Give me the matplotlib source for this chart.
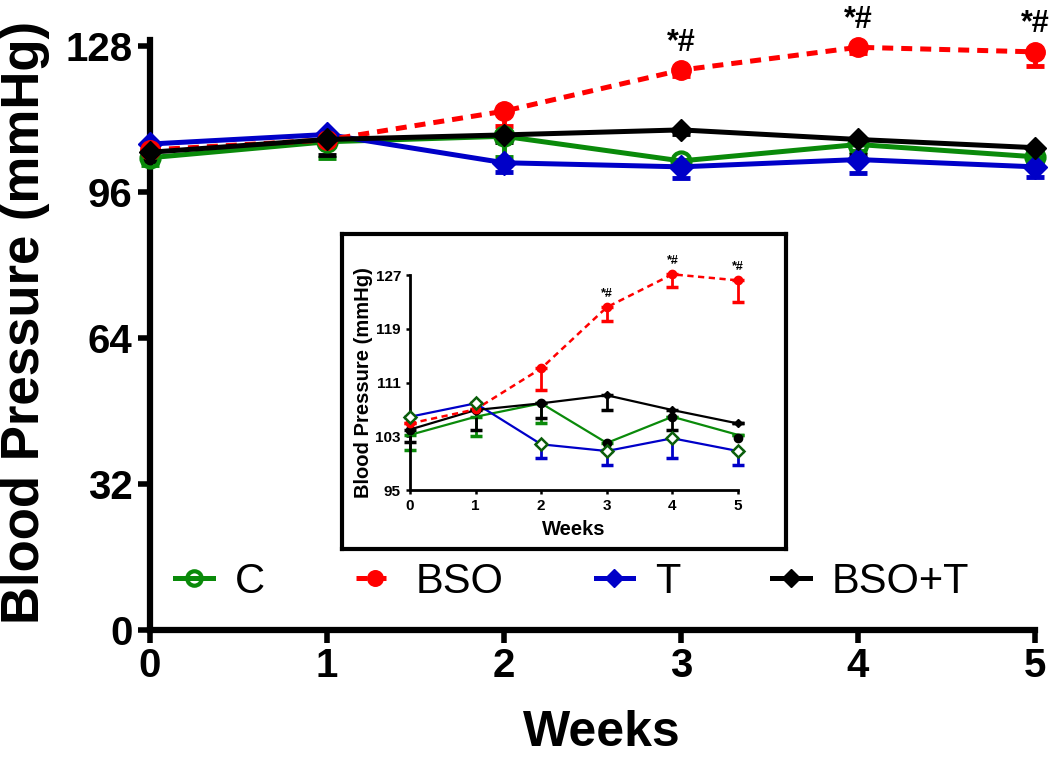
import matplotlib.pyplot as plt

plt.rcParams['font.family'] = ['Liberation Sans', 'DejaVu Sans']

weeks = [0, 1, 2, 3, 4, 5]

# main panel (mmHg), error bars drawn downward only
c_bp = [103.5, 107.0, 108.2, 102.8, 106.4, 103.7]
c_err = [1.5, 3.5, 4.5, 1.0, 1.5, 1.0]
bso_bp = [105.2, 107.4, 113.7, 122.7, 127.7, 126.7]
bso_err = [0.8, 0.8, 3.3, 1.2, 1.2, 3.2]
t_bp = [106.5, 108.6, 102.4, 101.5, 103.1, 101.5]
t_err = [1.0, 1.0, 2.1, 2.5, 3.0, 2.2]
bsot_bp = [104.7, 107.5, 108.5, 109.6, 107.5, 105.7]
bsot_err = [2.0, 3.3, 1.5, 1.0, 3.3, 1.0]
star_weeks = [3, 4, 5]
star_text = "*#"

# inset panel (mmHg)
in_c = [103.2, 105.9, 107.9, 102.0, 105.9, 103.2]
in_c_err = [2.2, 2.9, 3.0, 1.0, 0.0, 0.0]
in_bso = [104.9, 107.0, 113.1, 122.2, 127.1, 126.2]
in_bso_err = [0.0, 0.0, 3.2, 2.1, 1.9, 3.2]
in_t = [105.9, 107.9, 101.8, 100.8, 102.7, 100.8]
in_t_err = [0.0, 0.0, 2.0, 2.1, 3.0, 2.1]
in_bsot = [104.0, 106.9, 107.9, 109.1, 106.9, 104.9]
in_bsot_err = [1.8, 2.9, 2.2, 2.2, 2.9, 0.0]
in_dots_weeks = [0, 1, 2, 3, 4, 5]
in_dots = [103.9, 106.9, 107.9, 102.0, 105.9, 102.7]
in_yticks = [95, 103, 111, 119, 127]

GREEN = '#0a8a0a'
RED = '#ff0000'
BLUE = '#0000c8'
BLACK = '#000000'

fig = plt.figure(figsize=(10.5, 7.58), dpi=100)
ax = fig.add_axes([150/1050, 1 - 630/758, 885/1050, 590/758])


def down_err(a, x, y, e, color, lw, cap, capw, z=2):
    a.errorbar(x, y, yerr=[e, [0]*len(e)], fmt='none', ecolor=color,
               elinewidth=lw, capsize=cap, capthick=capw, zorder=z, clip_on=False)


down_err(ax, weeks, c_bp, c_err, GREEN, 3.5, 6.5, 3.5)
down_err(ax, weeks, bso_bp, bso_err, RED, 3.5, 6.5, 3.5)
down_err(ax, weeks, t_bp, t_err, BLUE, 3.5, 6.5, 3.5)
down_err(ax, weeks, bsot_bp, bsot_err, BLACK, 3.5, 6.5, 3.5)

h_c, = ax.plot(weeks, c_bp, color=GREEN, lw=3.6, marker='o', ms=13, mfc='none',
               mec=GREEN, mew=3, label='C', zorder=3, clip_on=False)
h_bso, = ax.plot(weeks, bso_bp, color=RED, lw=3.6, ls=(0, (2.2, 1.6)), marker='o', ms=14,
                 mfc=RED, mec=RED, label='BSO', zorder=4, clip_on=False)
h_t, = ax.plot(weeks, t_bp, color=BLUE, lw=3.6, marker='D', ms=12, mfc=BLUE, mec=BLUE,
               label='T', zorder=3, clip_on=False)
h_b, = ax.plot(weeks, bsot_bp, color=BLACK, lw=3.6, marker='D', ms=11, mfc=BLACK, mec=BLACK,
               label='BSO+T', zorder=5, clip_on=False)

for w in star_weeks:
    ax.annotate(star_text, (w, bso_bp[w]), xytext=(0, 9), textcoords='offset points',
                ha='center', va='bottom', fontsize=22, fontweight='bold', annotation_clip=False)

ax.set_xlim(0, 5)
ax.set_ylim(0, 129.3)
ax.set_xticks(weeks)
ax.set_yticks([0, 32, 64, 96, 128])
for s in ['top', 'right']:
    ax.spines[s].set_visible(False)
for s in ['left', 'bottom']:
    ax.spines[s].set_linewidth(4.5)
ax.tick_params(width=4, length=9, labelsize=29)
for lab in ax.get_xticklabels() + ax.get_yticklabels():
    lab.set_fontweight('bold')
ax.set_xlabel('Weeks', fontsize=36, fontweight='bold')
ax.xaxis.set_label_coords(0.51, -0.136)
ax.set_ylabel('Blood Pressure (mmHg)', fontsize=38, fontweight='bold')
ax.yaxis.set_label_coords(-0.113, 0.522)

leg = fig.legend(handles=[h_c, h_bso, h_t, h_b], loc='center left',
                 bbox_to_anchor=(175/1050, 1 - 582/758), ncol=4, frameon=False,
                 fontsize=30, handlelength=0.9, handletextpad=0.53, columnspacing=2.2,
                 markerscale=0.8, borderpad=0, borderaxespad=0)

# inset box
box = fig.add_axes([342/1050, 1 - 549/758, 444/1050, 315/758])
box.set_xticks([])
box.set_yticks([])
for s in box.spines.values():
    s.set_linewidth(3)
box.set_zorder(6)

ins = fig.add_axes([410/1050, 1 - 490/758, 328/1050, 215/758])
ins.set_zorder(7)
ins.patch.set_alpha(0)

down_err(ins, weeks, in_c, in_c_err, GREEN, 2, 4.5, 2.5)
down_err(ins, weeks, in_bso, in_bso_err, RED, 2, 4.5, 2.5)
down_err(ins, weeks, in_t, in_t_err, BLUE, 2, 4.5, 2.5)
down_err(ins, weeks, in_bsot, in_bsot_err, BLACK, 2, 4.5, 2.5)

ins.plot(weeks, in_c, color=GREEN, lw=1.6, zorder=3, clip_on=False)
ins.plot(weeks, in_t, color=BLUE, lw=1.6, zorder=3, clip_on=False)
ins.plot(weeks, in_bsot, color=BLACK, lw=1.6, marker='D', ms=4, zorder=3, clip_on=False)
ins.plot(in_dots_weeks, in_dots, ls='none', marker='o', ms=6, color=BLACK, zorder=4, clip_on=False)
ins.plot(weeks, in_bso, color=RED, lw=1.8, ls=(0, (2.5, 1.8)), marker='o', ms=6,
         zorder=4, clip_on=False)
ins.plot(weeks, in_t, ls='none', marker='D', ms=6, mfc='white', mec='#0b5e0b', mew=1.8,
         zorder=5, clip_on=False)

for w in star_weeks:
    ins.annotate(star_text, (w, in_bso[w]), xytext=(0, 5), textcoords='offset points',
                 ha='center', va='bottom', fontsize=9, fontweight='bold', annotation_clip=False)

ins.set_xlim(0, 5)
ins.set_ylim(95, 127)
ins.set_xticks(weeks)
ins.set_yticks(in_yticks)
for s in ['top', 'right']:
    ins.spines[s].set_visible(False)
for s in ['left', 'bottom']:
    ins.spines[s].set_linewidth(2)
ins.tick_params(width=1.8, length=3, labelsize=11, pad=3.5)
for lab in ins.get_xticklabels() + ins.get_yticklabels():
    lab.set_fontweight('bold')
ins.set_xlabel('Weeks', fontsize=14.5, fontweight='bold', labelpad=5)
ins.set_ylabel('Blood Pressure (mmHg)', fontsize=14.5, fontweight='bold', labelpad=2)

fig.savefig('out.png', dpi=100)
